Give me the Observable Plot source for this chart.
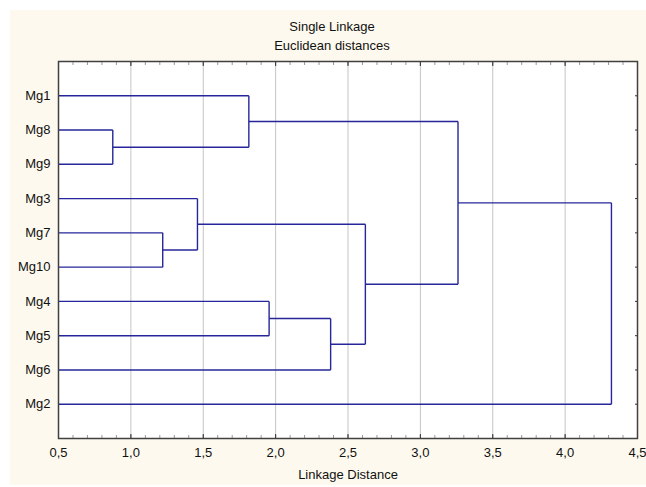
<!DOCTYPE html>
<html>
<head>
<meta charset="utf-8">
<script src="https://cdn.jsdelivr.net/npm/d3@7"></script>
<script src="https://cdn.jsdelivr.net/npm/@observablehq/plot@0.6"></script>
<style>
  html, body { margin: 0; padding: 0; background: #ffffff; }
  #wrap { position: relative; width: 646px; height: 487px; overflow: hidden; }
  #cream { position: absolute; left: 10px; top: 10px; width: 636px; height: 475px; background: #fdf9ee; }
  #titles { position: absolute; left: 0; top: 17px; width: 664px; text-align: center;
            font-family: "Liberation Sans", Arial, sans-serif; font-size: 13px; line-height: 19px; color: #111; }
  #chart { position: absolute; left: 0; top: 0; }
  #chart svg { background: transparent !important; }
</style>
</head>
<body>
<div id="wrap">
  <div id="cream"></div>
  <div id="titles"><div>Single Linkage</div><div>Euclidean distances</div></div>
  <div id="chart"></div>
</div>
<script>
// Leaves, top to bottom
const leaves = ["Mg1", "Mg8", "Mg9", "Mg3", "Mg7", "Mg10", "Mg4", "Mg5", "Mg6", "Mg2"];
// Merge steps: node ids 0..9 are leaves, 10+ are merged clusters (in order)
const mergeA = [1, 0, 4, 3, 6, 14, 13, 11, 17];
const mergeB = [2, 10, 5, 12, 7, 8, 15, 16, 9];
const mergeHeight = [0.875, 1.815, 1.22, 1.46, 1.955, 2.38, 2.62, 3.26, 4.32];
const xTicks = [0.5, 1.0, 1.5, 2.0, 2.5, 3.0, 3.5, 4.0, 4.5];
const xMin = 0.5, xMax = 4.5;

// Build node positions
const nodeX = leaves.map(() => xMin);
const nodeY = leaves.map((_, i) => i + 1);
const segs = [];
mergeA.forEach((a, k) => {
  const b = mergeB[k], h = mergeHeight[k];
  segs.push({x1: nodeX[a], y1: nodeY[a], x2: h, y2: nodeY[a]});
  segs.push({x1: nodeX[b], y1: nodeY[b], x2: h, y2: nodeY[b]});
  segs.push({x1: h, y1: nodeY[a], x2: h, y2: nodeY[b]});
  nodeX.push(h);
  nodeY.push((nodeY[a] + nodeY[b]) / 2);
});

const leafPos = leaves.map((_, i) => i + 1);
const minorTicks = d3.range(5, 46).map(v => v / 10);
const gridTicks = xTicks.slice(1, -1);
const fmt = d => d.toFixed(1).replace(".", ",");

const chart = Plot.plot({
  width: 646,
  height: 487,
  marginLeft: 58,
  marginRight: 9,
  marginTop: 61,
  marginBottom: 49,
  style: {background: "transparent", fontFamily: "'Liberation Sans', Arial, sans-serif", fontSize: "13px", color: "#111"},
  x: {domain: [xMin, xMax]},
  y: {domain: [leaves.length + 1, 0]},
  marks: [
    Plot.frame({fill: "white", stroke: null}),
    Plot.gridX(gridTicks, {stroke: "#c4c4c4", strokeOpacity: 1}),
    Plot.link(segs, {x1: "x1", y1: "y1", x2: "x2", y2: "y2", stroke: "#26269a", strokeWidth: 1.4}),
    // minor ticks inside top and bottom
    Plot.axisX(minorTicks, {anchor: "top", tickSize: -3, tickFormat: () => "", stroke: "#9a9a9a", label: null}),
    Plot.axisX(minorTicks, {anchor: "bottom", tickSize: -3, tickFormat: () => "", stroke: "#9a9a9a", label: null}),
    // major ticks inside
    Plot.axisX(xTicks, {anchor: "top", tickSize: -4, tickFormat: () => "", stroke: "#333", label: null}),
    Plot.axisX(xTicks, {anchor: "bottom", tickSize: -4, tickFormat: () => "", stroke: "#333", label: null}),
    // labels
    Plot.axisX(xTicks, {anchor: "bottom", tickSize: 0, tickPadding: 9, tickFormat: fmt, label: "Linkage Distance",
      labelAnchor: "center", labelArrow: "none", labelOffset: 40, fill: "#111"}),
    Plot.axisY(leafPos, {anchor: "left", tickSize: 0, tickPadding: 8, tickFormat: d => leaves[d - 1], label: null, fill: "#111"}),
    Plot.axisY(leafPos, {anchor: "right", tickSize: -3, tickFormat: () => "", stroke: "#333", label: null}),
    Plot.frame({stroke: "#404040", strokeWidth: 1.5})
  ]
});
document.getElementById("chart").appendChild(chart);
</script>
</body>
</html>
